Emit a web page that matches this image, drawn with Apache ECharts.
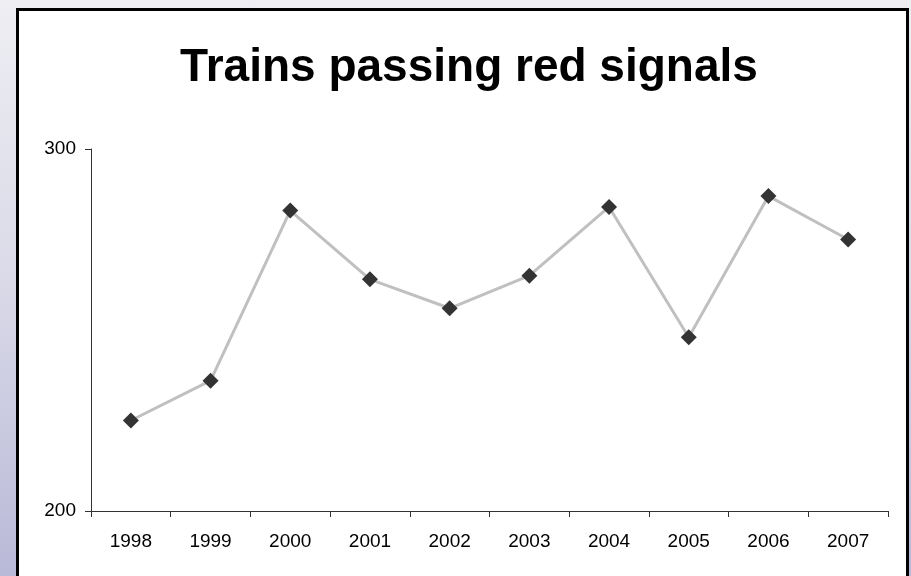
<!DOCTYPE html>
<html>
<head>
<meta charset="utf-8">
<script src="https://cdn.jsdelivr.net/npm/echarts@6/dist/echarts.min.js"></script>
<style>
  html, body { margin: 0; padding: 0; }
  body {
    width: 911px; height: 576px; overflow: hidden;
    background: linear-gradient(to bottom, #eeeef3 0%, #d9d9e8 50%, #b9b9d8 100%);
  }
  #main { width: 911px; height: 576px; }
</style>
</head>
<body>
<div id="main"></div>
<script>
// 年份
var years = ['1998', '1999', '2000', '2001', '2002', '2003', '2004', '2005', '2006', '2007'];
// 每年越过红灯的列车数
var spadCounts = [225, 236, 283, 264, 256, 265, 284, 248, 287, 275];
// 纵轴刻度
var yTicks = [200, 300];

var myChart = echarts.init(document.getElementById('main'));

var option = {
    backgroundColor: 'transparent',
    animation: false,
    title: {
        text: 'Trains passing red signals',
        left: 464,
        top: 40,
        textAlign: 'center',
        textStyle: {
            fontFamily: 'Liberation Sans, Arial, sans-serif',
            fontSize: 46,
            fontWeight: 'bold',
            color: '#000'
        }
    },
    // 白色外框
    graphic: [{
        type: 'rect',
        z: -10,
        silent: true,
        shape: { x: 17.5, y: 9.5, width: 890, height: 620 },
        style: { fill: '#fff', stroke: '#000', lineWidth: 3 }
    }],
    grid: {
        left: 91,
        right: 23,
        top: 149,
        bottom: 65
    },
    xAxis: {
        type: 'category',
        data: years,
        boundaryGap: true,
        axisLine: { lineStyle: { color: '#333', width: 1 } },
        axisTick: { show: true, length: 6, inside: false, lineStyle: { color: '#333' } },
        axisLabel: {
            margin: 21,
            fontFamily: 'Liberation Sans, Arial, sans-serif',
            fontSize: 19,
            color: '#000'
        },
        splitLine: { show: false }
    },
    yAxis: {
        type: 'value',
        min: yTicks[0],
        max: yTicks[yTicks.length - 1],
        interval: yTicks[1] - yTicks[0],
        axisLine: { show: true, lineStyle: { color: '#333', width: 1 } },
        axisTick: { show: true, length: 6, lineStyle: { color: '#333' } },
        axisLabel: {
            margin: 15,
            fontFamily: 'Liberation Sans, Arial, sans-serif',
            fontSize: 19,
            color: '#000'
        },
        splitLine: { show: false }
    },
    series: [{
        type: 'line',
        data: spadCounts,
        symbol: 'diamond',
        symbolSize: 16,
        itemStyle: { color: '#333' },
        lineStyle: { color: '#c0c0c0', width: 3 }
    }]
};

myChart.setOption(option);
</script>
</body>
</html>
